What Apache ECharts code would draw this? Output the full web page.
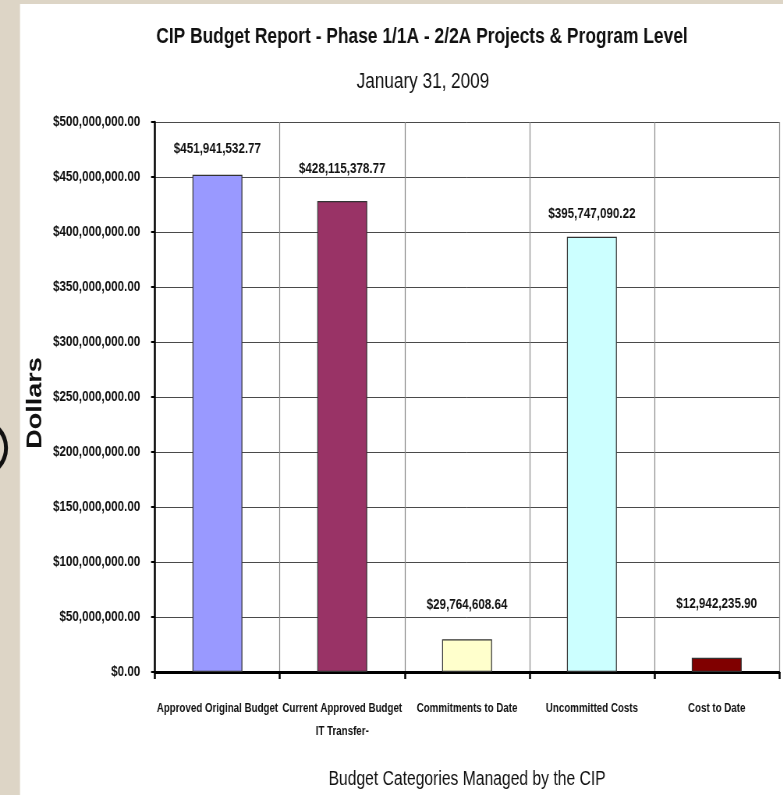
<!DOCTYPE html>
<html>
<head>
<meta charset="utf-8">
<script src="https://cdn.jsdelivr.net/npm/echarts@6/dist/echarts.min.js"></script>
<style>
html,body{margin:0;padding:0;background:#ddd5c6;overflow:hidden;width:783px;height:795px;}
#chart{width:1004px;height:795px;transform:scaleX(0.78);transform-origin:0 0;}
</style>
</head>
<body>
<div id="chart"></div>
<script>
const categories = [
  "Approved Original Budget",
  "Current Approved Budget\nIT Transfer-",
  "Commitments to Date",
  "Uncommitted Costs",
  "Cost to Date"
];
const values = [451941532.77, 428115378.77, 29764608.64, 395747090.22, 12942235.90];
const valueLabels = ["$451,941,532.77", "$428,115,378.77", "$29,764,608.64", "$395,747,090.22", "$12,942,235.90"];
const yTickValues = [0, 50000000, 100000000, 150000000, 200000000, 250000000, 300000000, 350000000, 400000000, 450000000, 500000000];
const titleText = "CIP Budget Report - Phase 1/1A - 2/2A Projects & Program Level";
const subtitleText = "January 31, 2009";
const xAxisTitle = "Budget Categories Managed by the CIP";
const yAxisTitle = "Dollars";

const barColors = ["#9999ff", "#993366", "#ffffcc", "#ccffff", "#800000"];
const labelGaps = [18, 25, 27, 15, 46];
const FONT = '"Liberation Sans", Arial, sans-serif';
const SX = 0.78; // horizontal squeeze applied to the whole chart (narrow lettering)
const px = v => v / SX;

function fmtMoney(v) {
  const s = Math.round(v).toString().replace(/\B(?=(\d{3})+(?!\d))/g, ",");
  return "$" + s + ".00";
}

const chart = echarts.init(document.getElementById('chart'), null, {renderer: 'canvas'});
chart.setOption({
  backgroundColor: '#ddd5c6',
  animation: false,
  graphic: [
    {type: 'rect', z: -10, shape: {x: px(20), y: 4, width: 1100, height: 800}, style: {fill: '#ffffff'}},
    {type: 'ellipse', z: -5, shape: {cx: px(-22), cy: 448, rx: px(28), ry: 28}, style: {fill: 'none', stroke: '#111', lineWidth: 5}}
  ],
  title: [
    {
      text: titleText,
      left: px(422), top: 26, padding: 0, textAlign: 'center',
      textStyle: {fontFamily: FONT, fontSize: 22.3, fontWeight: 'bold', color: '#111'}
    },
    {
      text: subtitleText,
      left: px(423), top: 71, padding: 0, textAlign: 'center',
      textStyle: {fontFamily: FONT, fontSize: 22, fontWeight: 'normal', color: '#111'}
    }
  ],
  grid: {left: px(155), right: px(4), top: 122, bottom: 123, containLabel: false},
  xAxis: {
    type: 'category',
    data: categories,
    boundaryGap: true,
    name: xAxisTitle,
    nameLocation: 'middle',
    nameGap: 97,
    nameMoveOverlap: false,
    nameTextStyle: {fontFamily: FONT, fontSize: 20.1, color: '#111'},
    axisLine: {show: true, lineStyle: {color: '#000', width: 3}},
    axisTick: {show: true, alignWithLabel: false, length: 7, lineStyle: {color: '#000', width: 2.5}},
    axisLabel: {
      interval: 0, margin: 25, fontFamily: FONT, fontSize: 12.5, fontWeight: 'bold',
      color: '#111', lineHeight: 23
    },
    splitLine: {show: true, interval: 0, lineStyle: {color: '#888', width: 1.2}}
  },
  yAxis: {
    type: 'value',
    min: 0, max: 500000000, interval: 50000000,
    name: yAxisTitle,
    nameLocation: 'middle',
    nameGap: 140,
    nameRotate: 90,
    nameMoveOverlap: false,
    nameTextStyle: {fontFamily: FONT, fontSize: 27, fontWeight: 'bold', color: '#111', padding: [0, 12, 0, 0]},
    axisLine: {show: true, lineStyle: {color: '#000', width: 2.5}},
    axisTick: {show: true, inside: false, length: 5, lineStyle: {color: '#000', width: 2}},
    axisLabel: {
      margin: 19, fontFamily: FONT, fontSize: 14.9, fontWeight: 'bold', color: '#111',
      formatter: v => yTickValues.indexOf(v) >= 0 ? fmtMoney(v) : ''
    },
    splitLine: {show: true, lineStyle: {color: '#4a4a4a', width: 1}}
  },
  series: [{
    type: 'bar',
    barWidth: '40%',
    data: values.map((v, i) => ({
      value: v,
      itemStyle: {color: barColors[i], borderColor: '#333', borderWidth: 1.2},
      label: {
        show: true, position: 'top', distance: labelGaps[i],
        formatter: valueLabels[i],
        fontFamily: FONT, fontSize: 14.9, fontWeight: 'bold', color: '#111'
      }
    }))
  }]
});
</script>
</body>
</html>
